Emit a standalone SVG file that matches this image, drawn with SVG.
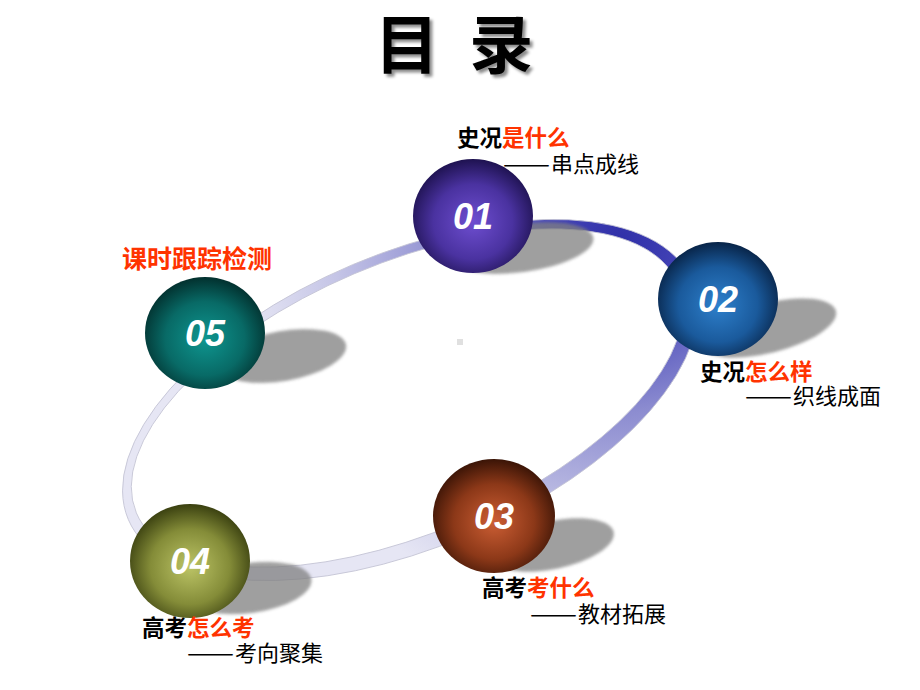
<svg xmlns="http://www.w3.org/2000/svg" width="920" height="690" viewBox="0 0 920 690">
<defs>
<style>
.ttl{font-family:"Noto Sans CJK SC","Noto Sans",sans-serif;font-weight:bold;font-size:64px;fill:#000}
.hd{font-family:"Noto Sans CJK SC","Noto Sans",sans-serif;font-weight:bold;font-size:22.5px;fill:#000}
.red{fill:#ff3300}
.sub{font-family:"Noto Sans CJK SC","Noto Sans",sans-serif;font-size:22px;fill:#000}
.num{font-family:"Liberation Sans",Arial,sans-serif;font-weight:bold;font-style:italic;font-size:36px;fill:#fff;text-anchor:middle}
.shd{fill:#808080;opacity:0.75}
</style>
<filter id="ts" x="-10%" y="-10%" width="130%" height="130%">
<feDropShadow dx="3" dy="3" stdDeviation="1.5" flood-color="#000" flood-opacity="0.45"/>
</filter>
<filter id="blur" x="-20%" y="-50%" width="140%" height="200%">
<feGaussianBlur stdDeviation="1.5"/>
</filter>
<radialGradient id="ringG" gradientUnits="userSpaceOnUse" cx="666" cy="335" r="380">
<stop offset="0" stop-color="#3030a8"/>
<stop offset="0.2" stop-color="#4646b8"/>
<stop offset="0.45" stop-color="#8c8cd0"/>
<stop offset="0.75" stop-color="#c4c4e6"/>
<stop offset="1" stop-color="#e6e6f4"/>
</radialGradient>
<radialGradient id="g1" cx="0.5" cy="0.55" r="0.55">
<stop offset="0" stop-color="#6e4ed0"/>
<stop offset="0.6" stop-color="#4a32a0"/>
<stop offset="1" stop-color="#1e1250"/>
</radialGradient>
<radialGradient id="g2" cx="0.5" cy="0.55" r="0.55">
<stop offset="0" stop-color="#2e80cc"/>
<stop offset="0.6" stop-color="#1a5a9c"/>
<stop offset="1" stop-color="#082448"/>
</radialGradient>
<radialGradient id="g3" cx="0.5" cy="0.55" r="0.55">
<stop offset="0" stop-color="#cc5e34"/>
<stop offset="0.6" stop-color="#8c3818"/>
<stop offset="1" stop-color="#3a1406"/>
</radialGradient>
<radialGradient id="g4" cx="0.5" cy="0.55" r="0.55">
<stop offset="0" stop-color="#bcc466"/>
<stop offset="0.6" stop-color="#848c38"/>
<stop offset="1" stop-color="#3a4010"/>
</radialGradient>
<radialGradient id="g5" cx="0.5" cy="0.55" r="0.55">
<stop offset="0" stop-color="#0e9690"/>
<stop offset="0.6" stop-color="#086a66"/>
<stop offset="1" stop-color="#02302e"/>
</radialGradient>
</defs>
<rect width="920" height="690" fill="#fff"/>

<g id="title" filter="url(#ts)">
<text class="ttl" x="458" y="68" text-anchor="middle" letter-spacing="8" xml:space="preserve">目 录</text>
</g>

<rect x="457" y="339" width="6" height="6" fill="#e0e0e0"/>

<g id="connectors" transform="rotate(-23 410 400)">
<path fill-rule="evenodd" fill="url(#ringG)" stroke="#c4c4d4" stroke-width="0.8" d="M104,400 a306,147 0 1,0 612,0 a306,147 0 1,0 -612,0 Z M114,397 a294,135 0 1,0 588,0 a294,135 0 1,0 -588,0 Z"/>
</g>

<g id="node01">
<ellipse class="shd" cx="522" cy="248" rx="72" ry="24" transform="rotate(-8 522 248)" filter="url(#blur)"/>
<ellipse cx="473" cy="216" rx="60" ry="57" fill="url(#g1)"/>
<text class="num" x="473" y="229">01</text>
<text class="hd" x="457" y="146">史况<tspan class="red">是什么</tspan></text>
<text class="sub" y="172"><tspan x="503" textLength="47" lengthAdjust="spacingAndGlyphs">——</tspan><tspan x="551">串点成线</tspan></text>
</g>

<g id="node02">
<ellipse class="shd" cx="768" cy="328" rx="70" ry="25" transform="rotate(-14 768 328)" filter="url(#blur)"/>
<ellipse cx="718" cy="299" rx="60" ry="57" fill="url(#g2)"/>
<text class="num" x="718" y="312">02</text>
<text class="hd" x="700" y="380">史况<tspan class="red">怎么样</tspan></text>
<text class="sub" y="404"><tspan x="745" textLength="47" lengthAdjust="spacingAndGlyphs">——</tspan><tspan x="793">织线成面</tspan></text>
</g>

<g id="node03">
<ellipse class="shd" cx="553" cy="545" rx="62" ry="24" transform="rotate(-12 553 545)" filter="url(#blur)"/>
<ellipse cx="494" cy="516" rx="61" ry="57" fill="url(#g3)"/>
<text class="num" x="494" y="529">03</text>
<text class="hd" x="482" y="596">高考<tspan class="red">考什么</tspan></text>
<text class="sub" y="622"><tspan x="530" textLength="47" lengthAdjust="spacingAndGlyphs">——</tspan><tspan x="578">教材拓展</tspan></text>
</g>

<g id="node04">
<ellipse class="shd" cx="250" cy="588" rx="62" ry="25" transform="rotate(-8 250 588)" filter="url(#blur)"/>
<ellipse cx="190" cy="561" rx="60" ry="57" fill="url(#g4)"/>
<text class="num" x="190" y="574">04</text>
<text class="hd" x="142" y="636">高考<tspan class="red">怎么考</tspan></text>
<text class="sub" y="661"><tspan x="187" textLength="47" lengthAdjust="spacingAndGlyphs">——</tspan><tspan x="235">考向聚集</tspan></text>
</g>

<g id="node05">
<ellipse class="shd" cx="283" cy="356" rx="64" ry="25" transform="rotate(-10 283 356)" filter="url(#blur)"/>
<ellipse cx="205" cy="333" rx="60" ry="56" fill="url(#g5)"/>
<text class="num" x="205" y="346">05</text>
<text class="hd red" x="122" y="268" style="font-size:25px">课时跟踪检测</text>
</g>
</svg>
